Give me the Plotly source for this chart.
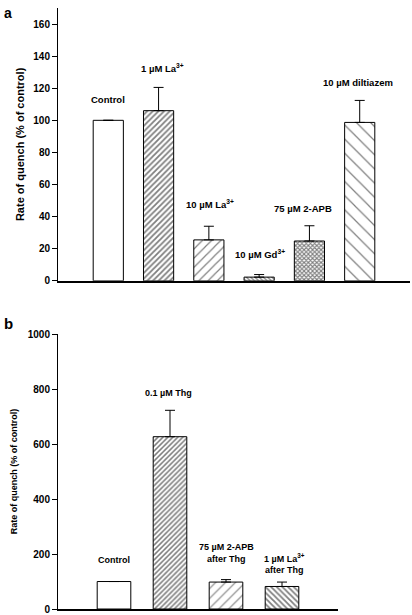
import plotly.graph_objects as go

# ---- data ----
cats_a = ["Control", "1 µM La3+", "10 µM La3+", "10 µM Gd3+", "75 µM 2-APB", "10 µM diltiazem"]
vals_a = [100, 106, 25.5, 2.3, 24.8, 98.7]
errs_a = [None, 14.5, 8.5, 1.6, 9.5, 13.7]
labels_a = ["Control", "1 µM La<sup>3+</sup>", "10 µM La<sup>3+</sup>", "10 µM Gd<sup>3+</sup>",
            "75 µM 2-APB", "10 µM diltiazem"]
ticks_a = [0, 20, 40, 60, 80, 100, 120, 140, 160]

cats_b = ["Control", "0.1 µM Thg", "75 µM 2-APB after Thg", "1 µM La3+ after Thg"]
vals_b = [100, 627, 98, 82]
errs_b = [None, 96, 9, 16]
labels_b = ["Control", "0.1 µM Thg", "75 µM 2-APB<br>after Thg", "1 µM La<sup>3+</sup><br>after Thg"]
ticks_b = [0, 200, 400, 600, 800, 1000]

FONT = "Liberation Sans, Arial, sans-serif"

# ---- styles ----
shapes_a = ["", "/", "/", "\\", "x", "\\"]
sizes_a = [8, 4, 6.5, 3, 3, 10]
solid_a = [0.1, 0.45, 0.18, 0.45, 0.6, 0.12]
shapes_b = ["", "/", "/", "\\"]
sizes_b = [8, 3.5, 7, 4]
solid_b = [0.1, 0.45, 0.16, 0.45]


def minus_of(errs):
    return [None if e is None else 0 for e in errs]


fig = go.Figure()
fig.add_trace(go.Bar(
    x=cats_a, y=vals_a, xaxis="x", yaxis="y", width=0.6,
    marker=dict(color="white", line=dict(color="black", width=1),
                pattern=dict(shape=shapes_a, size=sizes_a, solidity=solid_a,
                             fgcolor="black", bgcolor="white", fillmode="overlay")),
    error_y=dict(type="data", array=errs_a, arrayminus=minus_of(errs_a), symmetric=False,
                 color="black", thickness=1, width=5),
    showlegend=False))
fig.add_trace(go.Bar(
    x=cats_b, y=vals_b, xaxis="x2", yaxis="y2", width=0.6,
    marker=dict(color="white", line=dict(color="black", width=1),
                pattern=dict(shape=shapes_b, size=sizes_b, solidity=solid_b,
                             fgcolor="black", bgcolor="white", fillmode="overlay")),
    error_y=dict(type="data", array=errs_b, arrayminus=minus_of(errs_b), symmetric=False,
                 color="black", thickness=1, width=5),
    showlegend=False))

W, H = 412, 615
L, R, T, B = 58, 2, 0, 5
pw, ph = W - L - R, H - T - B

label_y_a = [113, 132.5, 48, 16.5, 45, 123.5]
label_dx_a = [0, 4, 1, 1, -6, -2]
label_y_b = [180, 785, 205, 165]
label_dx_b = [0, -2, 0, 2]

ann = []
for c, t, yy, dx in zip(cats_a, labels_a, label_y_a, label_dx_a):
    ann.append(dict(x=c, y=yy, xref="x", yref="y", text=t, showarrow=False, xshift=dx,
                    font=dict(family=FONT, size=9.5, color="black", weight="bold")))
for c, t, yy, dx in zip(cats_b, labels_b, label_y_b, label_dx_b):
    ann.append(dict(x=c, y=yy, xref="x2", yref="y2", text=t, showarrow=False, xshift=dx,
                    font=dict(family=FONT, size=9, color="black", weight="bold")))


def px_to_paper(px_x, px_y):
    return (px_x - L) / pw, (H - B - px_y) / ph


ax, ay = px_to_paper(2, 7)
bx, by = px_to_paper(2, 321)
ann.append(dict(x=ax, y=ay, xref="paper", yref="paper", text="a", showarrow=False,
                xanchor="left", yanchor="middle",
                font=dict(family=FONT, size=14, color="black", weight="bold")))
ann.append(dict(x=bx, y=by, xref="paper", yref="paper", text="b", showarrow=False,
                xanchor="left", yanchor="middle",
                font=dict(family=FONT, size=15, color="black", weight="bold")))

fig.update_layout(
    width=W, height=H,
    margin=dict(l=L, r=R, t=T, b=B),
    paper_bgcolor="white", plot_bgcolor="white",
    annotations=ann,
    xaxis=dict(domain=[0, 1], anchor="y", range=[-1, 6], categoryorder="array",
               categoryarray=cats_a, showticklabels=False, ticks="",
               showline=True, linecolor="black", linewidth=1.5, showgrid=False,
               zeroline=False),
    yaxis=dict(domain=[(ph - 278) / ph, (ph - 2) / ph], anchor="x", range=[0, 170],
               tickvals=ticks_a, ticks="outside", ticklen=5, tickcolor="black",
               tickfont=dict(family=FONT, size=10, color="black", weight="bold"),
               showline=True, linecolor="black", linewidth=1,
               showgrid=False, zeroline=False,
               title=dict(text="Rate of quench (% of control)", standoff=6,
                          font=dict(family=FONT, size=11, color="black", weight="bold"))),
    xaxis2=dict(domain=[0, (338 - L) / pw], anchor="y2", range=[-1, 4], categoryorder="array",
                categoryarray=cats_b, showticklabels=False, ticks="",
                showline=True, linecolor="black", linewidth=1.5, showgrid=False,
                zeroline=False),
    yaxis2=dict(domain=[0, (ph - 332) / ph], anchor="x2", range=[0, 1000],
                tickvals=ticks_b, ticks="outside", ticklen=5, tickcolor="black",
                tickfont=dict(family=FONT, size=10, color="black", weight="bold"),
                showline=True, linecolor="black", linewidth=1,
                showgrid=False, zeroline=False,
                title=dict(text="Rate of quench (% of control)", standoff=8,
                           font=dict(family=FONT, size=9, color="black", weight="bold"))),
)

fig.write_html("out.html", config={"displayModeBar": False},
               post_script="document.body.style.margin='0';document.body.style.overflow='hidden';")
